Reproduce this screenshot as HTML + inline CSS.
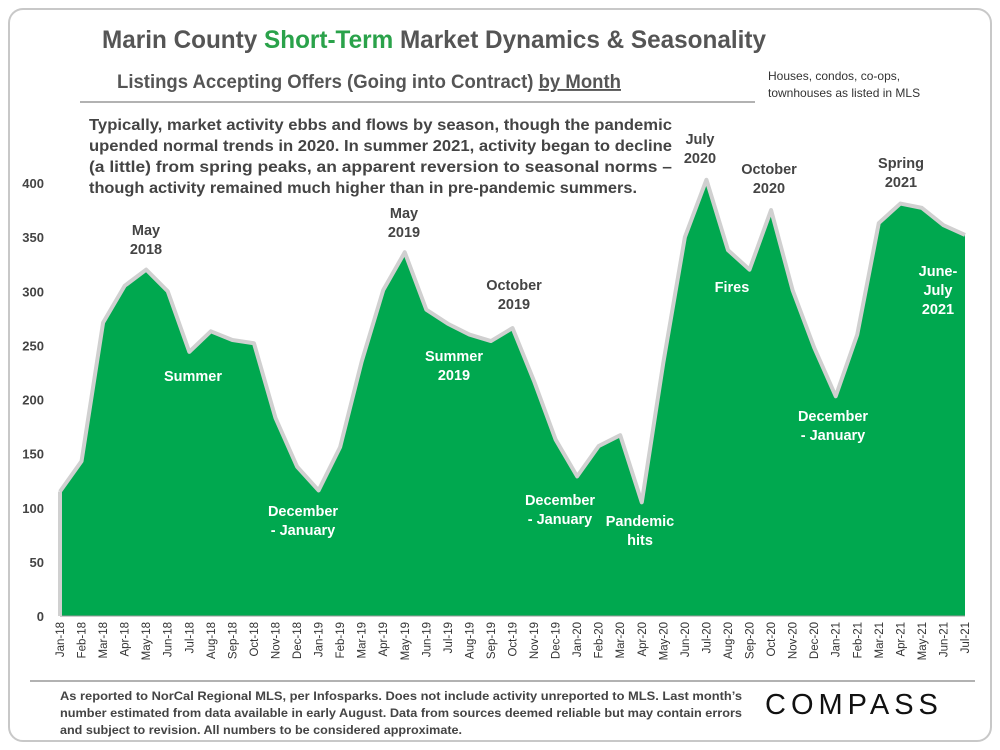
<!DOCTYPE html>
<html><head><meta charset="utf-8"><style>
body{margin:0;background:#fff;font-family:"Liberation Sans",sans-serif}
#wrap{position:relative;width:1000px;height:750px;overflow:hidden}
</style></head><body>
<div id="wrap">
<svg id="svg" width="1000" height="750" xmlns="http://www.w3.org/2000/svg">
<rect x="9" y="9" width="982" height="732" rx="14" fill="#fff" stroke="#c8c8c8" stroke-width="2"/>
<text x="102" y="48" font-size="25" font-weight="bold" fill="#555" textLength="664" lengthAdjust="spacingAndGlyphs">Marin County <tspan fill="#2aa24a">Short-Term</tspan> Market Dynamics &amp; Seasonality</text>
<text x="117" y="88" font-size="19" font-weight="bold" fill="#555" textLength="504" lengthAdjust="spacingAndGlyphs">Listings Accepting Offers (Going into Contract) <tspan text-decoration="underline">by Month</tspan></text>
<text x="768" y="80" font-size="12" fill="#333"><tspan x="768">Houses, condos, co-ops,</tspan><tspan x="768" dy="17">townhouses as listed in MLS</tspan></text>
<line x1="80" y1="102" x2="755" y2="102" stroke="#999" stroke-width="1.5"/>
<g font-size="15.5" font-weight="bold" fill="#444">
<text x="89" y="130" textLength="583" lengthAdjust="spacingAndGlyphs">Typically, market activity ebbs and flows by season, though the pandemic</text>
<text x="89" y="151" textLength="583" lengthAdjust="spacingAndGlyphs">upended normal trends in 2020. In summer 2021, activity began to decline</text>
<text x="89" y="172" textLength="583" lengthAdjust="spacingAndGlyphs">(a little) from spring peaks, an apparent reversion to seasonal norms –</text>
<text x="89" y="193" textLength="548" lengthAdjust="spacingAndGlyphs">though activity remained much higher than in pre-pandemic summers.</text>
</g>
<g id="plot"></g>
<line x1="30" y1="681" x2="975" y2="681" stroke="#999" stroke-width="1.5"/>
<g font-size="12" font-weight="bold" fill="#444">
<text x="60" y="700" textLength="682" lengthAdjust="spacingAndGlyphs">As reported to NorCal Regional MLS, per Infosparks. Does not include activity unreported to MLS. Last month’s</text>
<text x="60" y="717" textLength="682" lengthAdjust="spacingAndGlyphs">number estimated from data available in early August. Data from sources deemed reliable but may contain errors</text>
<text x="60" y="734" textLength="402" lengthAdjust="spacingAndGlyphs">and subject to revision.  All numbers to be considered approximate.</text>
</g>
<text x="765" y="714" font-size="29" fill="#111" letter-spacing="5">COMPASS</text>
</svg>
</div>
<script>
const categories=["Jan-18","Feb-18","Mar-18","Apr-18","May-18","Jun-18","Jul-18","Aug-18","Sep-18","Oct-18","Nov-18","Dec-18","Jan-19","Feb-19","Mar-19","Apr-19","May-19","Jun-19","Jul-19","Aug-19","Sep-19","Oct-19","Nov-19","Dec-19","Jan-20","Feb-20","Mar-20","Apr-20","May-20","Jun-20","Jul-20","Aug-20","Sep-20","Oct-20","Nov-20","Dec-20","Jan-21","Feb-21","Mar-21","Apr-21","May-21","Jun-21","Jul-21"];
const listings=[115,143,271,305,320,300,244,263,255,252,183,138,116,156,235,301,336,283,270,260,254,266,217,163,129,157,167,105,234,350,403,338,320,375,301,248,203,260,363,381,377,361,352];
const yTicks=[0,50,100,150,200,250,300,350,400];
const notes=[["May|2018",4,355,"#444"],["Summer",6,null,"#fff"],["December|- January",12,null,"#fff"],["May|2019",16,355,"#444"],["Summer|2019",19,null,"#fff"],["October|2019",21,null,"#444"],["December|- January",24,null,"#fff"],["Pandemic|hits",27,null,"#fff"],["July|2020",30,null,"#444"],["Fires",32,null,"#fff"],["October|2020",33,null,"#444"],["December|- January",36,null,"#fff"],["Spring|2021",39,null,"#444"],["June-|July|2021",42,null,"#fff"]];
const notePos=[[146,235],[193,381],[303,516],[404,218],[454,361],[514,290],[560,505],[640,526],[700,144],[732,292],[769,174],[833,421],[901,168],[938,276]];
const NS="http://www.w3.org/2000/svg";
const g=document.getElementById('plot');
const x0=60,x1=965,y0=616,yTop=183;
const xs=i=>x0+(x1-x0)*i/(categories.length-1);
const ys=v=>y0-(y0-yTop)*v/400;
function mk(t,a){const e=document.createElementNS(NS,t);for(const k in a)e.setAttribute(k,a[k]);g.appendChild(e);return e;}
yTicks.forEach(t=>{const e=mk('text',{x:44,y:ys(t)+5,'text-anchor':'end','font-size':13,'font-weight':'bold',fill:'#444'});e.textContent=t;

});
let d=`M${xs(0)},${y0}`;listings.forEach((v,i)=>d+=` L${xs(i)},${ys(v)}`);d+=` L${xs(listings.length-1)},${y0} Z`;
const area=mk('path',{d:d,fill:'#00a84f'});


let l='';listings.forEach((v,i)=>l+=(i?' L':'M')+xs(i)+','+ys(v));
const line=mk('path',{d:l,fill:'none',stroke:'#d0d0d0','stroke-width':4,'stroke-linejoin':'round'});


const ax=mk('line',{x1:x0,y1:y0,x2:x1,y2:y0,stroke:'#999','stroke-width':1});


const ay=mk('line',{x1:x0,y1:y0,x2:x0,y2:ys(listings[0]),stroke:'#d0d0d0','stroke-width':4});


categories.forEach((c,i)=>{const e=mk('text',{transform:`translate(${xs(i)+4},622) rotate(-90)`,'text-anchor':'end','font-size':11.5,fill:'#333'});e.textContent=c;

});
notes.forEach((n,k)=>{const [tx,ty]=notePos[k];const e=mk('text',{x:tx,y:ty,'text-anchor':'middle','font-size':14.5,'font-weight':'bold',fill:n[3]});
n[0].split('|').forEach((s,j)=>{const t=document.createElementNS(NS,'tspan');t.setAttribute('x',tx);t.setAttribute('dy',j?19:0);t.textContent=s;e.appendChild(t);});

});
</script>
</body></html>
